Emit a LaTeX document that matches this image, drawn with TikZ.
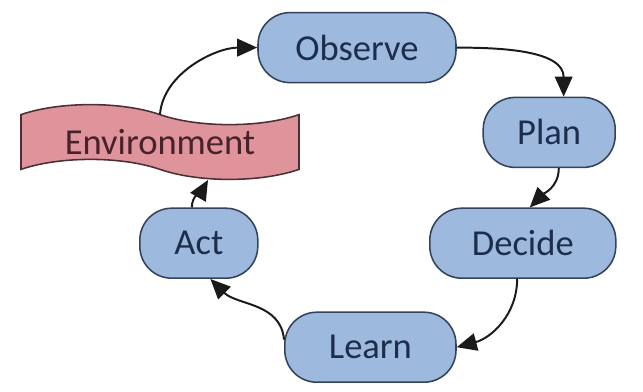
\documentclass[tikz,border=0pt]{standalone}
\usepackage{fontspec}
\usepackage{xcolor}
\usepackage{tikz}
\usetikzlibrary{arrows.meta,positioning,shapes.symbols,calc}
\newfontfamily\cyclefont{Carlito}
\definecolor{BoxFill}{HTML}{9DB9DE}
\definecolor{BoxLine}{HTML}{34425A}
\definecolor{BoxText}{HTML}{1C2E4C}
\definecolor{EnvFill}{HTML}{DF939A}
\definecolor{EnvLine}{HTML}{4A3036}
\definecolor{EnvText}{HTML}{47222A}
\definecolor{Wire}{HTML}{1A1A1A}
\tikzset{
  stage/.style={draw=BoxLine,fill=BoxFill,line width=1.1pt,rounded corners=0.8cm,minimum height=1.75cm,align=center,text=BoxText,font=\cyclefont\fontsize{26}{30}\selectfont},
  world/.style={draw=EnvLine,fill=EnvFill,line width=1.1pt,tape,tape bend top=out and in,tape bend bottom=out and in,tape bend height=0.5cm,minimum width=6.95cm,minimum height=1.8cm,text=EnvText,font=\cyclefont\fontsize{26}{30}\selectfont},
  line/.style={-{Triangle[length=0.5cm,width=0.44cm]},line width=1.4pt,color=Wire}
}
\begin{document}
\begin{tikzpicture}
  \useasboundingbox (0,0) rectangle (16.075,-9.775);
  \node[world] (env) at (4.0,-3.55) {Environment};
  \node[stage,minimum width=4.95cm] (observe) at (8.925,-1.19) {Observe};
  \node[stage,minimum width=3.3cm] (plan) at (13.73,-3.31) {Plan};
  \node[stage,minimum width=4.65cm] (decide) at (13.07,-6.08) {Decide};
  \node[stage,minimum width=4.28cm] (learn) at (9.26,-8.68) {Learn};
  \node[stage,minimum width=2.95cm] (act) at (4.97,-6.08) {Act};
  \draw[line] (env.north) to[out=85,in=180,looseness=0.9] (observe.west);
  \draw[line] (observe.east) to[out=0,in=90] (plan.68);
  \draw[line] (plan.-75) to[out=-90,in=45] (decide.79);
  \draw[line] (decide.-99) to[out=-90,in=15] (learn.east);
  \draw[line] (learn.175) to[out=95,in=-45] (act.-72);
  \draw[line] (act.101) to[out=90,in=-120] ($(env.south)+(1.2,-0.25)$);
\end{tikzpicture}
\end{document}
